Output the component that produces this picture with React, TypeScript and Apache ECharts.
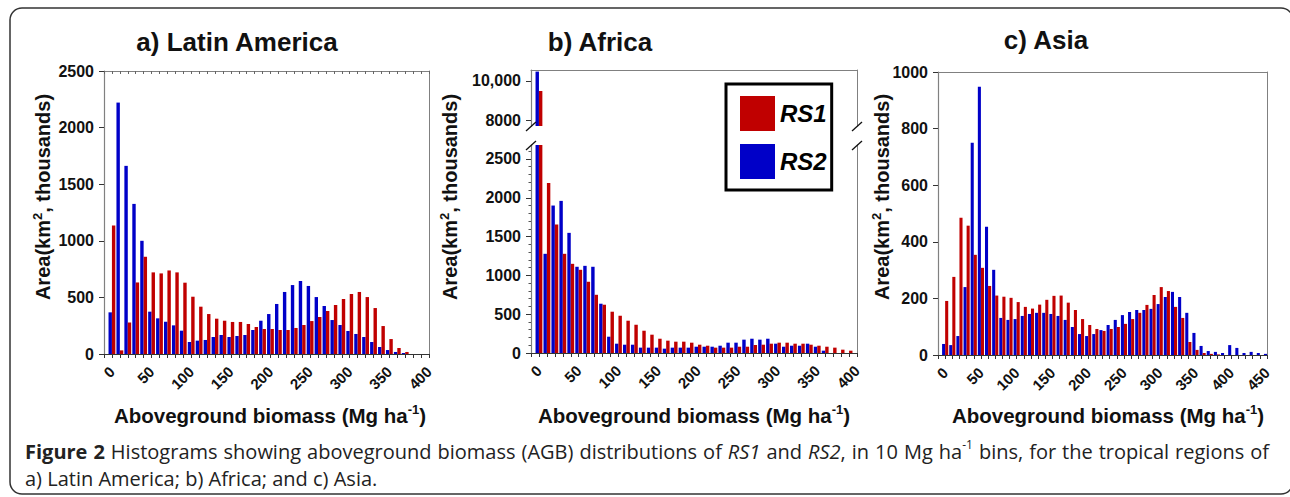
import React, { useEffect, useRef } from 'react';
import * as echarts from 'echarts';

// ---------- data (10 Mg/ha bins, area in km2 thousands) ----------
const BINS_LA = [0, 10, 20, 30, 40, 50, 60, 70, 80, 90, 100, 110, 120, 130, 140, 150, 160, 170, 180, 190, 200, 210, 220, 230, 240, 250, 260, 270, 280, 290, 300, 310, 320, 330, 340, 350, 360, 370];
const LA_RS1 = [1135, 32, 279, 632, 859, 721, 712, 738, 721, 630, 506, 418, 353, 312, 294, 283, 283, 265, 238, 221, 221, 212, 212, 230, 256, 291, 327, 380, 433, 486, 530, 548, 503, 406, 247, 132, 53, 18];
const LA_RS2 = [368, 2221, 1662, 1326, 1000, 374, 315, 285, 253, 206, 106, 118, 124, 150, 168, 150, 159, 168, 212, 294, 353, 442, 548, 609, 645, 601, 503, 424, 300, 256, 203, 177, 150, 106, 62, 35, 18, 9];

const BINS_AF = [0, 10, 20, 30, 40, 50, 60, 70, 80, 90, 100, 110, 120, 130, 140, 150, 160, 170, 180, 190, 200, 210, 220, 230, 240, 250, 260, 270, 280, 290, 300, 310, 320, 330, 340, 350, 360, 370, 380, 390];
const AF_RS1 = [9487, 2191, 1655, 1278, 1149, 1072, 918, 750, 622, 532, 480, 416, 364, 287, 236, 184, 159, 146, 146, 133, 107, 94, 69, 69, 69, 81, 81, 103, 107, 120, 133, 133, 120, 120, 107, 94, 81, 69, 43, 30];
const AF_RS2 = [10479, 1278, 1900, 1960, 1548, 1111, 1123, 1111, 635, 210, 120, 107, 107, 69, 69, 69, 56, 69, 69, 69, 81, 81, 81, 94, 133, 133, 172, 184, 172, 184, 120, 81, 94, 94, 120, 81, 30, 0, 0, 0];

const BINS_AS = [0, 10, 20, 30, 40, 50, 60, 70, 80, 90, 100, 110, 120, 130, 140, 150, 160, 170, 180, 190, 200, 210, 220, 230, 240, 250, 260, 270, 280, 290, 300, 310, 320, 330, 340, 350, 360, 370, 380, 390, 400, 410, 420, 430, 440, 450];
const AS_RS1 = [191, 276, 485, 457, 354, 308, 244, 210, 206, 202, 187, 170, 164, 178, 195, 209, 210, 185, 159, 127, 106, 92, 85, 92, 99, 110, 127, 149, 177, 212, 240, 226, 170, 131, 46, 18, 7, 4, 2, 0, 0, 0, 0, 0, 0, 0];
const AS_RS2 = [39, 35, 67, 240, 750, 948, 453, 301, 131, 124, 127, 138, 145, 149, 149, 145, 138, 124, 99, 74, 67, 74, 88, 106, 124, 141, 152, 159, 159, 163, 180, 205, 223, 205, 149, 78, 32, 14, 11, 7, 35, 25, 7, 11, 7, 4];

const Y_TICKS_AF_LOW = [0, 500, 1000, 1500, 2000, 2500];
const Y_TICKS_AF_HIGH = [8000, 10000];

const PANEL_TITLES = ['a) Latin America', 'b) Africa', 'c) Asia'];
const SERIES_NAMES = ['RS1', 'RS2'];

// ---------- styling ----------
const FONT = '"Liberation Sans", Arial, Helvetica, sans-serif';
const CAP_FONT = '"Open Sans"';
const RED = '#C00000';
const BLUE = '#0000C8';
const GRAY = '#808080';
const INK = '#111';
const CAP_SIZE = 20;

function pairs(bins: number[], vals: number[]) {
  return bins.map((b, i) => [b, vals[i]]);
}

const plain = (v: number) => (v === 10000 ? '10,000' : String(Math.round(v)));

function xBottom(grid: number, max: number) {
  return {
    type: 'value', gridIndex: grid, position: 'bottom', min: -10, max, interval: 10,
    axisLine: { show: true, onZero: false, lineStyle: { color: '#333', width: 1.2 } },
    axisTick: { show: true, length: 4, lineStyle: { color: '#333' } },
    axisLabel: {
      show: true, rotate: 45, margin: 15, fontSize: 15, fontWeight: 'bold', fontFamily: FONT, color: INK,
      formatter: (v: number) => { const r = Math.round(v); return r >= 0 && r % 50 === 0 ? String(r) : ''; },
    },
    splitLine: { show: false },
  };
}
function xTop(grid: number, max: number, ticks: boolean) {
  return {
    type: 'value', gridIndex: grid, position: 'top', min: -10, max, interval: 10,
    axisLine: { show: true, onZero: false, lineStyle: { color: GRAY } },
    axisTick: { show: ticks, inside: true, length: 3, lineStyle: { color: '#666' } },
    axisLabel: { show: false }, splitLine: { show: false },
  };
}
function yRight(grid: number) {
  return {
    type: 'value', gridIndex: grid, position: 'right',
    axisLine: { show: true, onZero: false, lineStyle: { color: GRAY } },
    axisTick: { show: false }, axisLabel: { show: false }, splitLine: { show: false },
  };
}
const yLabel = (extra: any) => ({ margin: 10, fontSize: 16, fontWeight: 'bold', fontFamily: FONT, color: INK, formatter: plain, ...extra });
function yLeft(grid: number, extra: any) {
  return {
    type: 'value', gridIndex: grid, position: 'left',
    axisLine: { show: true, onZero: false, lineStyle: { color: GRAY, width: 1.2 } },
    axisTick: { show: true, length: 5, lineStyle: { color: '#333' } },
    axisLabel: yLabel({}),
    splitLine: { show: false },
    ...extra,
  };
}
function bars(name: string, color: string, xi: number, yi: number, data: number[][]) {
  return {
    type: 'bar', name, xAxisIndex: xi, yAxisIndex: yi, data,
    itemStyle: { color }, barGap: '0%', barCategoryGap: '14%', clip: true, silent: true,
    emphasis: { disabled: true },
  };
}

function supText(main1: string, sup: string, main2: string, size: number, supSize: number) {
  return {
    text: `{n|${main1}}{s|${sup}}{n|${main2}}`,
    rich: {
      n: { fontSize: size, fontWeight: 'bold', fontFamily: FONT, fill: INK, lineHeight: size + 4 },
      s: { fontSize: supSize, fontWeight: 'bold', fontFamily: FONT, fill: INK, verticalAlign: 'top', lineHeight: supSize + 1 },
    },
  };
}

const CAP_LINE1: [string, string][][] = [
  [['Figure', 'b']], [['2', 'b']], [['Histograms', 'n']], [['showing', 'n']], [['aboveground', 'n']],
  [['biomass', 'n']], [['(AGB)', 'n']], [['distributions', 'n']], [['of', 'n']], [['RS1', 'i']],
  [['and', 'n']], [['RS2', 'i'], [',', 'n']], [['in', 'n']], [['10', 'n']], [['Mg', 'n']],
  [['ha', 'n'], ['-1', 's']], [['bins,', 'n']], [['for', 'n']], [['the', 'n']], [['tropical', 'n']],
  [['regions', 'n']], [['of', 'n']],
];
const CAP_LINE2 = 'a) Latin America; b) Africa; and c) Asia.';

function capFont(style: string) {
  if (style === 'b') return `bold ${CAP_SIZE}px ${CAP_FONT}`;
  if (style === 'i') return `italic ${CAP_SIZE}px ${CAP_FONT}`;
  if (style === 's') return `${Math.round(CAP_SIZE * 0.6)}px ${CAP_FONT}`;
  return `${CAP_SIZE}px ${CAP_FONT}`;
}

function buildCaption(targetWidth: number) {
  const canvas = document.createElement('canvas');
  const ctx = canvas.getContext('2d') as CanvasRenderingContext2D;
  let wordsWidth = 0;
  for (const w of CAP_LINE1) for (const [t, s] of w) { ctx.font = capFont(s); wordsWidth += ctx.measureText(t).width; }
  const gaps = CAP_LINE1.length - 1;
  const sp = Math.max(3, (targetWidth - wordsWidth) / gaps);
  const text = CAP_LINE1.map((w) => w.map(([t, s]) => `{${s}|${t}}`).join('')).join('{sp| }');
  const base = { fontFamily: CAP_FONT, fontSize: CAP_SIZE, fill: '#222', lineHeight: CAP_SIZE + 5 };
  const rich = {
    n: { ...base },
    b: { ...base, fontWeight: 'bold' },
    i: { ...base, fontStyle: 'italic' },
    s: { ...base, fontSize: Math.round(CAP_SIZE * 0.6), lineHeight: Math.round(CAP_SIZE * 0.6) + 1, verticalAlign: 'top' },
    sp: { ...base, width: sp },
  };
  return { text, rich };
}

export default function App() {
  const ref = useRef<HTMLDivElement>(null);
  useEffect(() => {
    if (!ref.current) return;
    const chart = echarts.init(ref.current, null, { renderer: 'svg' });
    const cap = buildCaption(1244);
    const yT = supText('Area(km', '2', ', thousands)', 20, 13);
    const xT = supText('Aboveground biomass (Mg ha', '-1', ')', 20.5, 13);
    const titleStyle = { fontSize: 26, fontWeight: 'bold', fontFamily: FONT, fill: INK, align: 'center', verticalAlign: 'middle' };
    const brk = (x1: number, y1: number, x2: number, y2: number) => ({
      type: 'line', shape: { x1, y1, x2, y2 }, style: { stroke: '#111', lineWidth: 1.3 }, z: 100,
    });

    const option: any = {
      animation: false,
      backgroundColor: '#fff',
      grid: [
        { left: 104, top: 71, width: 325, height: 283, outerBoundsMode: 'none' },
        { left: 531, top: 70, width: 326, height: 56, outerBoundsMode: 'none' },
        { left: 531, top: 145, width: 326, height: 208, outerBoundsMode: 'none' },
        { left: 938, top: 72, width: 329, height: 283, outerBoundsMode: 'none' },
      ],
      xAxis: [
        xBottom(0, 400),
        xTop(0, 400, true),
        { type: 'value', gridIndex: 1, min: -10, max: 400, show: false },
        xTop(1, 400, false),
        xBottom(2, 400),
        xBottom(3, 450),
        xTop(3, 450, false),
      ],
      yAxis: [
        yLeft(0, { min: 0, max: 2500, interval: 500 }),
        yRight(0),
        yLeft(1, {
          min: 7700, max: 10560,
          axisTick: { show: true, length: 5, lineStyle: { color: '#333' }, customValues: Y_TICKS_AF_HIGH },
          axisLabel: yLabel({ customValues: Y_TICKS_AF_HIGH }),
        }),
        yRight(1),
        yLeft(2, {
          min: 0, max: 2680, interval: 500,
          axisTick: { show: true, length: 5, lineStyle: { color: '#333' }, customValues: Y_TICKS_AF_LOW },
          axisLabel: yLabel({ customValues: Y_TICKS_AF_LOW }),
          minorTick: { show: true, splitNumber: 5, length: 2.5, lineStyle: { color: '#555' } },
        }),
        yRight(2),
        yLeft(3, { min: 0, max: 1000, interval: 200 }),
        yRight(3),
      ],
      legend: {
        data: SERIES_NAMES, orient: 'vertical', left: 726, top: 84,
        itemWidth: 35, itemHeight: 35, itemGap: 13, padding: [12, 5, 11, 14],
        borderColor: '#000', borderWidth: 3, backgroundColor: '#fff', icon: 'rect', selectedMode: false,
        textStyle: { fontSize: 24, fontWeight: 'bold', fontStyle: 'italic', fontFamily: FONT, color: '#000' },
      },
      series: [
        bars('RS2', BLUE, 0, 0, pairs(BINS_LA, LA_RS2)),
        bars('RS1', RED, 0, 0, pairs(BINS_LA, LA_RS1)),
        bars('RS2', BLUE, 2, 2, pairs(BINS_AF, AF_RS2)),
        bars('RS1', RED, 2, 2, pairs(BINS_AF, AF_RS1)),
        bars('RS2', BLUE, 4, 4, pairs(BINS_AF, AF_RS2)),
        bars('RS1', RED, 4, 4, pairs(BINS_AF, AF_RS1)),
        bars('RS2', BLUE, 5, 6, pairs(BINS_AS, AS_RS2)),
        bars('RS1', RED, 5, 6, pairs(BINS_AS, AS_RS1)),
      ],
      graphic: [
        { type: 'rect', shape: { x: 10, y: 8, width: 1283, height: 486, r: 12 }, style: { fill: 'none', stroke: '#333', lineWidth: 1.5 }, z: -1 },
        { type: 'text', x: 237, y: 42, style: { text: PANEL_TITLES[0], ...titleStyle } },
        { type: 'text', x: 600, y: 42, style: { text: PANEL_TITLES[1], ...titleStyle } },
        { type: 'text', x: 1046, y: 40, style: { text: PANEL_TITLES[2], ...titleStyle } },
        { type: 'text', x: 43, y: 197, rotation: Math.PI / 2, style: { ...yT, align: 'center', verticalAlign: 'middle' } },
        { type: 'text', x: 450, y: 197, rotation: Math.PI / 2, style: { ...yT, align: 'center', verticalAlign: 'middle' } },
        { type: 'text', x: 882, y: 197, rotation: Math.PI / 2, style: { ...yT, align: 'center', verticalAlign: 'middle' } },
        { type: 'text', x: 270, y: 415, style: { ...xT, align: 'center', verticalAlign: 'middle' } },
        { type: 'text', x: 694, y: 415, style: { ...xT, align: 'center', verticalAlign: 'middle' } },
        { type: 'text', x: 1108, y: 415, style: { ...xT, align: 'center', verticalAlign: 'middle' } },
        brk(526, 131, 536, 122), brk(526, 150, 536, 141),
        brk(852, 131, 862, 122), brk(852, 150, 862, 141),
        { type: 'text', x: 25, y: 451, style: { ...cap, align: 'left', verticalAlign: 'middle' } },
        {
          type: 'text', x: 25, y: 478,
          style: { text: CAP_LINE2, fontFamily: CAP_FONT, fontSize: CAP_SIZE, fill: '#222', align: 'left', verticalAlign: 'middle' },
        },
      ],
    };
    chart.setOption(option);
    return () => chart.dispose();
  }, []);
  return <div ref={ref} style={{ position: 'absolute', left: 0, top: 0, width: 1290, height: 497, background: '#fff' }} />;
}
